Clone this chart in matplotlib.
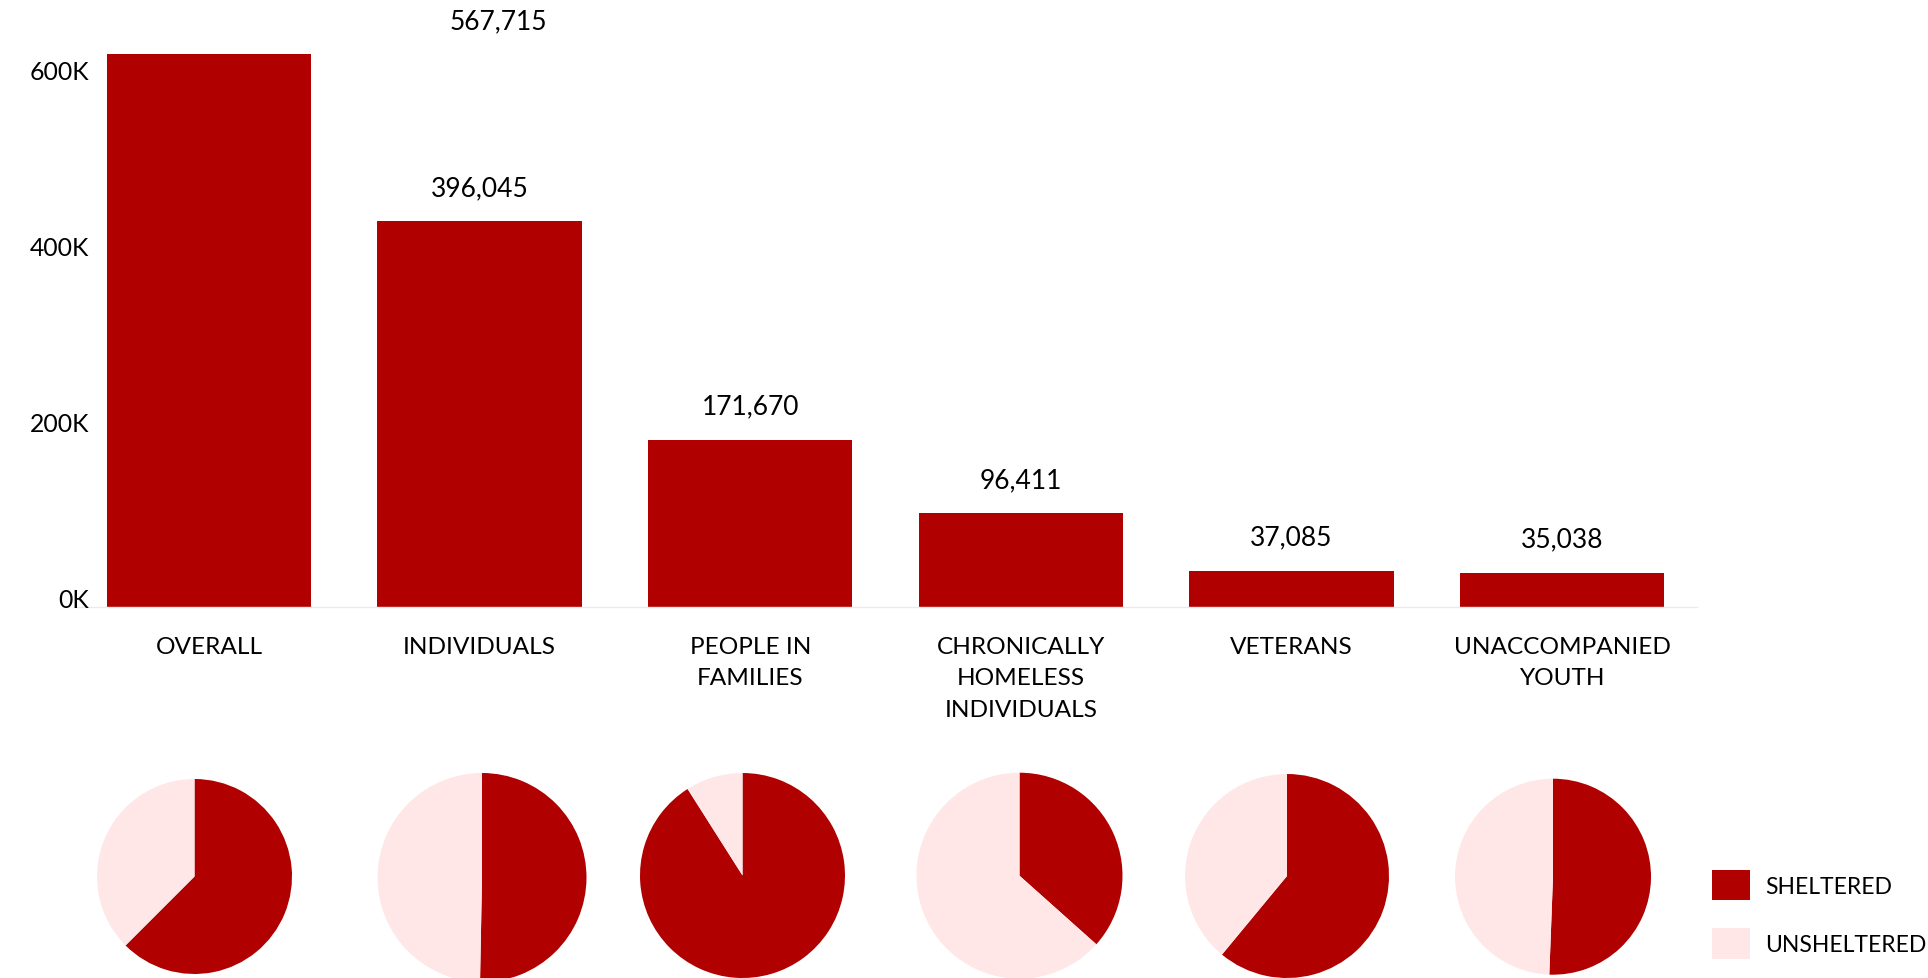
import matplotlib
matplotlib.use("Agg")
import matplotlib.pyplot as plt
from matplotlib.patches import Patch

#-- data

categories = ["OVERALL", "INDIVIDUALS", "PEOPLE IN\nFAMILIES",
              "CHRONICALLY\nHOMELESS\nINDIVIDUALS", "VETERANS",
              "UNACCOMPANIED\nYOUTH"]
totals = [567715, 396045, 171670, 96411, 37085, 35038]
sheltered_share = [0.625, 0.503, 0.91, 0.366, 0.61, 0.506]
ytick_values = [0, 200000, 400000, 600000]
ytick_labels = ["0K", "200K", "400K", "600K"]
legend_labels = ["SHELTERED", "UNSHELTERED"]

DARK = "#b00000"
LIGHT = "#ffe7e7"
FONT = "Lato"

plt.rcParams["font.family"] = [FONT, "DejaVu Sans"]

W, H = 1928, 979
fig = plt.figure(figsize=(W / 100, H / 100), dpi=100)


def px_box(left, top, width, height):
    # pixel box (origin top-left) -> figure fraction rect
    return [left / W, 1 - (top + height) / H, width / W, height / H]


#-- bar chart

base_px, top_px = 607.7, 55.0
ax = fig.add_axes(px_box(73.7, top_px, 1697.3 - 73.7, base_px - top_px))
xs = range(len(totals))
ax.bar(xs, totals, width=0.755, color=DARK, edgecolor="none")
ax.set_xlim(-0.5, 5.5)
ax.set_ylim(0, max(totals))
ax.set_xticks(list(xs))
ax.set_xticklabels(categories, fontsize=17.6, linespacing=1.62, va="top")
ax.tick_params(axis="x", length=0, pad=21)
ax.set_yticks([])
for s in ["top", "right", "left"]:
    ax.spines[s].set_visible(False)
ax.spines["bottom"].set_color("#f3e6e6")
ax.spines["bottom"].set_linewidth(1.0)

# the overall figure sits off to the right in the original
OVERALL_LABEL_SHIFT = 1.07
for i, v in enumerate(totals):
    x = i + (OVERALL_LABEL_SHIFT if i == 0 else 0)
    ax.annotate(f"{v:,}", (x, v), xytext=(0, 24), textcoords="offset points",
                ha="center", va="center", fontsize=19, annotation_clip=False)

# y labels are not lined up with the bar scale in the original
tick_ax = fig.add_axes(px_box(89, top_px, 1, base_px - top_px))
tick_ax.set_ylim(-11043, 618185)
tick_ax.set_yticks(ytick_values)
tick_ax.set_yticklabels(ytick_labels, fontsize=17.8)
tick_ax.tick_params(axis="y", length=0, pad=0)
tick_ax.set_xticks([])
tick_ax.patch.set_visible(False)
for s in tick_ax.spines.values():
    s.set_visible(False)

#-- pies

pie_centers = [(194.5, 877.5), (482, 878.5), (742.5, 876.5),
               (1019.5, 876.7), (1287, 877), (1553, 877.7)]
pie_radii = [97.5, 104.5, 102.5, 103, 102, 98]
for (cx, cy), r, share in zip(pie_centers, pie_radii, sheltered_share):
    pax = fig.add_axes(px_box(cx - r, cy - r, 2 * r, 2 * r))
    pax.pie([share, 1 - share], colors=[DARK, LIGHT], startangle=90,
            counterclock=False, radius=1,
            wedgeprops=dict(linewidth=0))
    pax.set_xlim(-1, 1)
    pax.set_ylim(-1, 1)
    pax.set_aspect("equal")
    pax.axis("off")

#-- legend

handles = [Patch(facecolor=DARK, edgecolor="none"),
           Patch(facecolor=LIGHT, edgecolor="none")]
fig.legend(handles, legend_labels, loc="upper left",
           bbox_to_anchor=(1712 / W, 1 - 871 / H), frameon=False,
           fontsize=16.5, handlelength=1.67, handleheight=1.67,
           labelspacing=1.22, handletextpad=0.66, borderpad=0,
           borderaxespad=0)

fig.savefig("out.png", dpi=100)
